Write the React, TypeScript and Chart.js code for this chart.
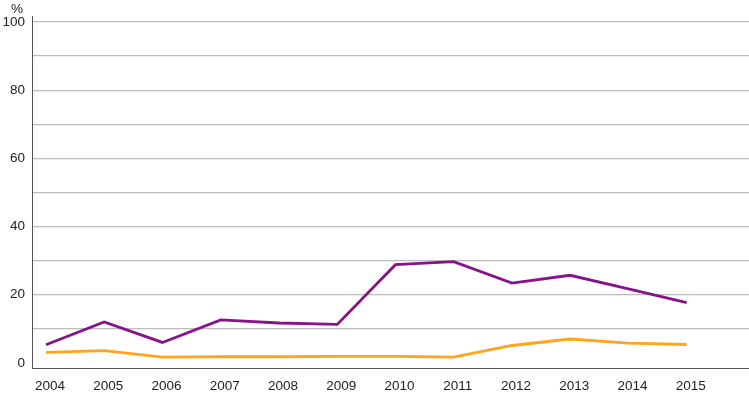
import { useEffect, useRef } from 'react';
import Chart from 'chart.js/auto';

const years = [2004, 2005, 2006, 2007, 2008, 2009, 2010, 2011, 2012, 2013, 2014, 2015];
const purpleValues = [5.3, 12.0, 6.0, 12.6, 11.7, 11.3, 28.8, 29.7, 23.4, 25.7, 21.7, 17.7];
const orangeValues = [3.1, 3.6, 1.7, 1.8, 1.8, 1.9, 1.9, 1.7, 5.1, 7.0, 5.8, 5.4];
const yTickValues = [0, 10, 20, 30, 40, 50, 60, 70, 80, 90, 100];
const yLabelStep = 20;
const unitLabel = '%';

const FONT = { family: '"Liberation Sans", Arial, sans-serif', size: 13.5 };
const TEXT_COLOR = '#222';

const extrasPlugin = {
  id: 'extras',
  afterDraw(chart: any) {
    const { ctx, chartArea } = chart;
    ctx.save();
    ctx.strokeStyle = '#555';
    ctx.lineWidth = 1;
    ctx.beginPath();
    ctx.moveTo(chartArea.left + 0.5, chartArea.top - 6);
    ctx.lineTo(chartArea.left + 0.5, chartArea.top);
    ctx.stroke();
    ctx.font = `${FONT.size}px ${FONT.family}`;
    ctx.fillStyle = TEXT_COLOR;
    ctx.textAlign = 'center';
    ctx.textBaseline = 'middle';
    ctx.fillText(unitLabel, 17, 9);
    ctx.restore();
  },
};

export default function App() {
  const ref = useRef<HTMLCanvasElement>(null);
  useEffect(() => {
    document.body.style.margin = '0';
    const chart = new Chart(ref.current!, {
      type: 'line',
      data: {
        datasets: [
          {
            data: years.map((y, i) => ({ x: y, y: purpleValues[i] })),
            borderColor: '#87138A',
            borderWidth: 2.8,
            pointRadius: 0,
            tension: 0,
          },
          {
            data: years.map((y, i) => ({ x: y, y: orangeValues[i] })),
            borderColor: '#FFA41B',
            borderWidth: 2.8,
            pointRadius: 0,
            tension: 0,
          },
        ],
      },
      options: {
        animation: false,
        responsive: false,
        maintainAspectRatio: false,
        layout: { padding: { top: 22, right: 0, left: 0, bottom: 0 } },
        plugins: { legend: { display: false }, tooltip: { enabled: false } },
        scales: {
          x: {
            type: 'linear',
            min: 2003.76,
            max: 2016.07,
            afterBuildTicks: (s: any) => {
              s.ticks = years.map((v) => ({ value: v }));
            },
            grid: { display: false, drawTicks: false },
            border: { display: true, color: '#555', width: 1 },
            ticks: {
              callback: (v: any) => String(v),
              padding: 10,
              labelOffset: 4,
              autoSkip: false,
              maxRotation: 0,
              font: FONT,
              color: TEXT_COLOR,
            },
            afterFit: (s: any) => {
              s.height = 27;
            },
          },
          y: {
            min: -1.5,
            max: 100,
            afterBuildTicks: (s: any) => {
              s.ticks = yTickValues.map((v) => ({ value: v }));
            },
            grid: {
              color: (ctx: any) => (ctx.tick && ctx.tick.value === 0 ? 'rgba(0,0,0,0)' : '#bcbcbc'),
              drawTicks: false,
              lineWidth: 1.2,
            },
            border: { display: true, color: '#555', width: 1 },
            ticks: {
              callback: (v: any) => (Number(v) % yLabelStep === 0 ? String(v) : ''),
              padding: 7,
              font: FONT,
              color: TEXT_COLOR,
            },
            afterFit: (s: any) => {
              s.width = 32;
            },
          },
        },
      },
      plugins: [extrasPlugin],
    });
    return () => chart.destroy();
  }, []);
  return <canvas ref={ref} width={749} height={395} style={{ display: 'block' }} />;
}
